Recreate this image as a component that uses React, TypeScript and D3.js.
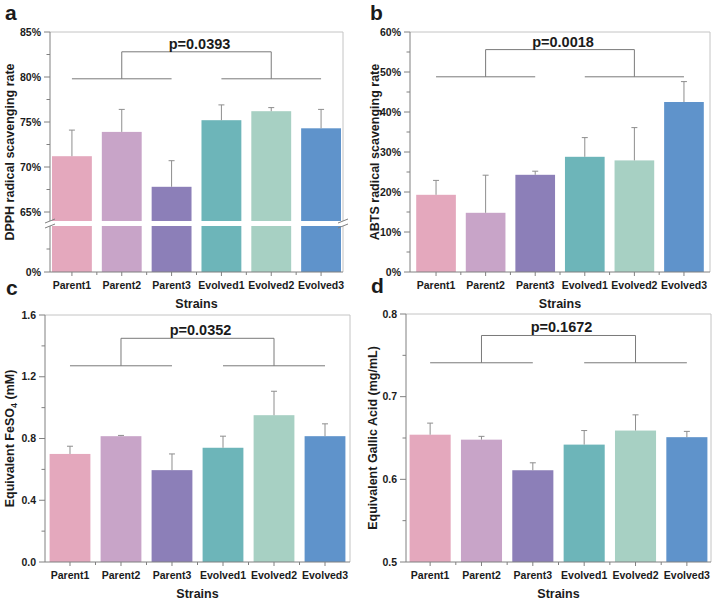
import * as React from 'react'
import * as d3 from 'd3'

const strains = ['Parent1', 'Parent2', 'Parent3', 'Evolved1', 'Evolved2', 'Evolved3']
const barColors = ['#e4a8bd', '#c8a4c8', '#8c7fb8', '#6db5b9', '#a7d0c3', '#5f93cb']

// DPPH radical scavenging rate (%)
const dpphMean = [71.2, 73.9, 67.8, 75.2, 76.2, 74.3]
const dpphErr = [2.9, 2.5, 2.9, 1.7, 0.4, 2.1]
// ABTS radical scavenging rate (%)
const abtsMean = [19.3, 14.8, 24.3, 28.8, 27.9, 42.5]
const abtsErr = [3.6, 9.4, 0.9, 4.8, 8.2, 5.1]
// Equivalent FeSO4 (mM)
const feMean = [0.7, 0.815, 0.595, 0.74, 0.951, 0.815]
const feErr = [0.05, 0.005, 0.105, 0.075, 0.155, 0.08]
// Equivalent gallic acid (mg/mL)
const gaMean = [0.654, 0.648, 0.611, 0.642, 0.659, 0.651]
const gaErr = [0.014, 0.004, 0.009, 0.017, 0.019, 0.007]

const pLabels = ['p=0.0393', 'p=0.0018', 'p=0.0352', 'p=0.1672']
// [group line, top line] in data units
const bracketA = [79.8, 82.8]
const bracketB = [48.8, 55.6]
const bracketC = [1.271, 1.449]
const bracketD = [0.741, 0.774]

const ticksA = [0, 65, 70, 75, 80, 85]
const minorA = [5, 67.5, 72.5, 77.5, 82.5]
const ticksB = [0, 10, 20, 30, 40, 50, 60]
const minorB = [5, 15, 25, 35, 45, 55]
const ticksC = [0, 0.4, 0.8, 1.2, 1.6]
const minorC = [0.2, 0.6, 1.0, 1.4]
const ticksD = [0.5, 0.6, 0.7, 0.8]
const minorD = [0.55, 0.65, 0.75]

const font = '"Liberation Sans", Arial, Helvetica, sans-serif'
const ink = '#1b1b1b'
const axisGray = '#808080'
const frameGray = '#c4c4c4'
const errGray = '#8e8e8e'
const bracketGray = '#7a7a7a'

interface PanelSpec {
    letter: string
    lx: number
    ly: number
    left: number
    right: number
    top: number
    bottom: number
    outer: number
    y: d3.ScaleLinear<number, number>
    major: number[]
    minor: number[]
    fmt: (v: number) => string
    title: React.ReactNode
    titleX: number
    mean: number[]
    err: number[]
    bracket: number[]
    p: string
    gap?: [number, number]
}

function Panel({ s }: { s: PanelSpec }) {
    const x = d3.scaleBand<string>()
        .domain(strains)
        .range([s.left, s.right])
        .paddingInner(0.2)
        .paddingOuter(s.outer)
    const bw = x.bandwidth()
    const cx = (i: number) => (x(strains[i]) as number) + bw / 2
    const y = s.y
    const dom = y.domain()
    const y0 = y(dom[0])
    const midY = (s.top + s.bottom) / 2
    const between = strains.slice(1).map(k => (x(k) as number) - x.step() * 0.1)

    const [b0, b1] = s.bracket
    const lx1 = cx(0), lx2 = cx(2), rx1 = cx(3), rx2 = cx(5)
    const vl = cx(1), vr = cx(4)

    return (
        <g fontFamily={font} fontWeight='bold' fill={ink}>
            <text x={s.lx} y={s.ly} fontSize={21}>{s.letter}</text>

            {/* frame */}
            <line x1={s.left} x2={s.right} y1={s.top} y2={s.top} stroke={frameGray} />
            <line x1={s.right} x2={s.right} y1={s.top} y2={s.bottom} stroke={frameGray} />

            {/* bars */}
            {s.mean.map((v, i) => (
                <rect key={strains[i]} x={x(strains[i])} y={y(v)} width={bw} height={y0 - y(v)} fill={barColors[i]} />
            ))}

            {/* error bars */}
            {s.mean.map((v, i) => (
                <g key={'e' + i} stroke={errGray} strokeWidth={1}>
                    <line x1={cx(i)} x2={cx(i)} y1={y(v)} y2={y(v + s.err[i])} />
                    <line x1={cx(i) - 3} x2={cx(i) + 3} y1={y(v + s.err[i])} y2={y(v + s.err[i])} />
                </g>
            ))}

            {/* axes */}
            <g stroke={axisGray} strokeWidth={1}>
                <line x1={s.left} x2={s.left} y1={s.top} y2={s.bottom} />
                <line x1={s.left} x2={s.right} y1={s.bottom} y2={s.bottom} />
                {s.major.map(t => <line key={'m' + t} x1={s.left - 6} x2={s.left} y1={y(t)} y2={y(t)} />)}
                {s.minor.map(t => <line key={'n' + t} x1={s.left - 3.5} x2={s.left} y1={y(t)} y2={y(t)} />)}
                {strains.map((k, i) => <line key={'x' + k} x1={cx(i)} x2={cx(i)} y1={s.bottom} y2={s.bottom + 4} />)}
                {between.map(b => <line key={'b' + b} x1={b} x2={b} y1={s.bottom} y2={s.bottom + 3} />)}
            </g>

            {/* axis break */}
            {s.gap && (() => {
                const g1 = y(s.gap[1]), g0 = y(s.gap[0])
                const yc = (g0 + g1) / 2
                return (
                    <g>
                        <rect x={s.left - 2} y={g1} width={s.right - s.left + 4} height={g0 - g1} fill='#fff' />
                        {[s.left, s.right].map(ax => (
                            <g key={'brk' + ax} stroke={axisGray} strokeWidth={1}>
                                <line x1={ax - 5} x2={ax + 5} y1={yc - 0.5} y2={yc - 4.5} />
                                <line x1={ax - 5} x2={ax + 5} y1={yc + 4.5} y2={yc + 0.5} />
                            </g>
                        ))}
                    </g>
                )
            })()}

            {/* tick labels */}
            {s.major.map(t => (
                <text key={'t' + t} x={s.left - 9} y={y(t)} dy='0.35em' textAnchor='end' fontSize={10.5}>{s.fmt(t)}</text>
            ))}
            {strains.map((k, i) => (
                <text key={'l' + k} x={cx(i)} y={s.bottom + 17} textAnchor='middle' fontSize={10.5}>{k}</text>
            ))}

            {/* titles */}
            <text x={(s.left + s.right) / 2} y={s.bottom + 36} textAnchor='middle' fontSize={12.5}>Strains</text>
            <text transform={`translate(${s.titleX},${midY}) rotate(-90)`} dy='0.35em' textAnchor='middle' fontSize={12.5}>{s.title}</text>

            {/* significance bracket */}
            <g stroke={bracketGray} strokeWidth={1} fill='none'>
                <line x1={lx1} x2={lx2} y1={y(b0)} y2={y(b0)} />
                <line x1={rx1} x2={rx2} y1={y(b0)} y2={y(b0)} />
                <line x1={vl} x2={vl} y1={y(b0)} y2={y(b1)} />
                <line x1={vr} x2={vr} y1={y(b0)} y2={y(b1)} />
                <line x1={vl} x2={vr} y1={y(b1)} y2={y(b1)} />
            </g>
            <text x={(vl + vr) / 2 + 3} y={y(b1) - 3} textAnchor='middle' fontSize={14.5}>{s.p}</text>
        </g>
    )
}

const pct = (v: number) => `${v}%`
const one = d3.format('.1f')

export default function App() {
    const panels: PanelSpec[] = [
        {
            letter: 'a', lx: 5, ly: 20, left: 50, right: 343, top: 32, bottom: 272, outer: 0.04,
            y: d3.scaleLinear().domain([0, 10, 64, 85]).range([272, 226, 221, 32]),
            major: ticksA, minor: minorA, fmt: pct,
            title: 'DPPH radical scavenging rate', titleX: 10,
            mean: dpphMean, err: dpphErr, bracket: bracketA, p: pLabels[0], gap: [10, 64],
        },
        {
            letter: 'b', lx: 370, ly: 20, left: 410, right: 710, top: 32, bottom: 272, outer: 0.125,
            y: d3.scaleLinear().domain([0, 60]).range([272, 32]),
            major: ticksB, minor: minorB, fmt: pct,
            title: 'ABTS radical scavenging rate', titleX: 375,
            mean: abtsMean, err: abtsErr, bracket: bracketB, p: pLabels[1],
        },
        {
            letter: 'c', lx: 6, ly: 295, left: 45, right: 350, top: 315, bottom: 562, outer: 0.09,
            y: d3.scaleLinear().domain([0, 1.6]).range([562, 315]),
            major: ticksC, minor: minorC, fmt: one,
            title: <>Equivalent FeSO<tspan dy={3} fontSize={9}>4</tspan><tspan dy={-3}> (mM)</tspan></>,
            titleX: 10,
            mean: feMean, err: feErr, bracket: bracketC, p: pLabels[2],
        },
        {
            letter: 'd', lx: 371, ly: 293, left: 406, right: 711, top: 314, bottom: 562, outer: 0.07,
            y: d3.scaleLinear().domain([0.5, 0.8]).range([562, 314]),
            major: ticksD, minor: minorD, fmt: one,
            title: 'Equivalent Gallic Acid (mg/mL)', titleX: 373,
            mean: gaMean, err: gaErr, bracket: bracketD, p: pLabels[3],
        },
    ]
    return (
        <svg width={716} height={603} style={{ position: 'absolute', left: 0, top: 0, background: '#fff' }}>
            {panels.map(s => <Panel key={s.letter} s={s} />)}
        </svg>
    )
}
